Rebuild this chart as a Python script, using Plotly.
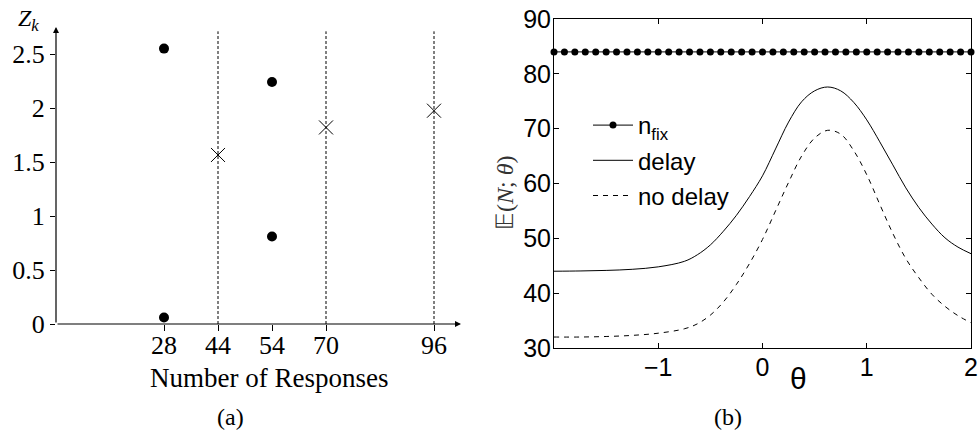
import plotly.graph_objects as go
import numpy as np

# ---------- Panel (a) data ----------
responses = [28, 44, 54, 70, 96]
slot = [3, 4, 5, 6, 8]            # ordinal position of each response count on the axis
dot_x = [28, 28, 54, 54]
dot_y = [0.06, 2.55, 0.81, 2.24]
cross_x = [44, 70, 96]
cross_y = [1.565, 1.82, 1.975]
vline_x = [44, 70, 96]
vline_top = 2.71
z_ticks = [0, 0.5, 1, 1.5, 2, 2.5]

# ---------- Panel (b) data ----------
theta = [-2.0, -1.75, -1.5, -1.25, -1.0, -0.75, -0.625, -0.5, -0.375, -0.25, -0.125,
         0.0, 0.125, 0.25, 0.375, 0.5, 0.625, 0.75, 0.875, 1.0, 1.125, 1.25, 1.375,
         1.5, 1.625, 1.75, 1.875, 2.0]
delay = [44.0, 44.05, 44.15, 44.35, 44.8, 45.8, 47.0, 48.8, 51.3, 54.2, 57.6,
         61.4, 66.3, 71.2, 74.9, 76.9, 77.6, 76.9, 74.8, 71.6, 67.6, 63.4, 59.2,
         55.6, 52.6, 50.1, 48.4, 47.2]
no_delay = [32.0, 32.0, 32.1, 32.3, 32.7, 33.5, 34.4, 36.0, 38.4, 41.6, 45.4,
            49.8, 55.0, 60.2, 65.0, 68.3, 69.7, 69.0, 66.0, 61.6, 56.2, 50.9, 46.3,
            42.8, 39.8, 37.6, 35.9, 34.6]
n_fix_value = 84.0
n_fix_theta = list(np.linspace(-2, 2, 41))

slot_of = dict(zip(responses, slot))

W, H = 978, 433
fig = go.Figure()

# vertical dotted lines
for v in vline_x:
    fig.add_trace(go.Scatter(x=[slot_of[v], slot_of[v]], y=[0, vline_top], mode="lines",
                             line=dict(color="black", width=1, dash="3px,2px"),
                             showlegend=False, xaxis="x", yaxis="y", hoverinfo="skip"))
fig.add_trace(go.Scatter(x=[slot_of[v] for v in dot_x], y=dot_y, mode="markers",
                         marker=dict(symbol="circle", size=10, color="black"),
                         showlegend=False, xaxis="x", yaxis="y", cliponaxis=False))
fig.add_trace(go.Scatter(x=[slot_of[v] for v in cross_x], y=cross_y, mode="markers",
                         marker=dict(symbol="x-thin", size=14, color="black",
                                     line=dict(color="black", width=1)),
                         showlegend=False, xaxis="x", yaxis="y"))

# panel (b)
fig.add_trace(go.Scatter(x=n_fix_theta, y=[n_fix_value] * len(n_fix_theta), mode="lines+markers",
                         name="n<sub>fix</sub>", legendgroup="a",
                         line=dict(color="black", width=1),
                         marker=dict(symbol="circle", size=7, color="black"),
                         xaxis="x2", yaxis="y2", cliponaxis=False))
fig.add_trace(go.Scatter(x=theta, y=delay, mode="lines", name="delay", legendgroup="b",
                         line=dict(color="black", width=1, shape="spline"),
                         xaxis="x2", yaxis="y2"))
fig.add_trace(go.Scatter(x=theta, y=no_delay, mode="lines", name="no delay", legendgroup="c",
                         line=dict(color="black", width=1, shape="spline", dash="5px,5px"),
                         xaxis="x2", yaxis="y2"))

serif = "Liberation Serif, Times New Roman, serif"
sans = "Liberation Sans, Arial, sans-serif"

fig.update_layout(
    width=W, height=H,
    margin=dict(l=0, r=0, t=0, b=0, autoexpand=False),
    paper_bgcolor="white", plot_bgcolor="white",
    showlegend=True,
    legend=dict(x=588 / W, y=1 - 103 / H, xanchor="left", yanchor="top",
                bgcolor="rgba(0,0,0,0)", font=dict(family=sans, size=24, color="black"),
                traceorder="grouped", tracegroupgap=1, itemwidth=40),
    xaxis=dict(domain=[56 / W, 461 / W], range=[1, 8.5], automargin=False,
               tickvals=slot, ticktext=[str(r) for r in responses],
               ticks="outside", ticklen=6, tickcolor="black", showline=False,
               showgrid=False, zeroline=False, ticklabelstandoff=-8,
               tickfont=dict(family=serif, size=26, color="black")),
    yaxis=dict(domain=[109 / H, 406 / H], range=[0, 2.75], automargin=False,
               tickvals=z_ticks, ticktext=["0", "0.5", "1", "1.5", "2", "2.5"],
               ticks="outside", ticklen=5, tickcolor="black", showline=False,
               showgrid=False, zeroline=False,
               tickfont=dict(family=serif, size=26, color="black")),
    xaxis2=dict(domain=[554 / W, 971 / W], range=[-2, 2], anchor="y2", automargin=False,
                tickvals=[-1, 0, 1, 2], ticktext=["\u22121", "0", "1", "2"],
                ticks="inside", ticklen=5, tickcolor="black",
                showline=True, linecolor="black", linewidth=1, mirror="allticks",
                showgrid=False, zeroline=False, ticklabelstandoff=-3,
                tickfont=dict(family=sans, size=25, color="black")),
    yaxis2=dict(domain=[85 / H, 414 / H], range=[30, 90], anchor="x2", automargin=False,
                tickvals=[30, 40, 50, 60, 70, 80, 90],
                ticks="inside", ticklen=5, tickcolor="black",
                showline=True, linecolor="black", linewidth=1, mirror="allticks",
                showgrid=False, zeroline=False, ticklabelstandoff=-3,
                tickfont=dict(family=sans, size=25, color="black")),
)

# axis arrows for panel (a)
fig.add_annotation(x=8.5, y=0, ax=1, ay=0, xref="x", yref="y", axref="x", ayref="y",
                   text="", showarrow=True, arrowhead=2, arrowsize=1, arrowwidth=1.2,
                   arrowcolor="black")
fig.add_annotation(x=1, y=2.75, ax=1, ay=0, xref="x", yref="y", axref="x", ayref="y",
                   text="", showarrow=True, arrowhead=2, arrowsize=1, arrowwidth=1.2,
                   arrowcolor="black")


def label(x, y, text, font, **kw):
    fig.add_annotation(x=x / W, y=1 - y / H, xref="paper", yref="paper", text=text,
                       showarrow=False, xanchor="center", yanchor="middle", font=font, **kw)


label(269, 378, "Number of Responses", dict(family=serif, size=27, color="black"))
label(28, 20, "<i>Z</i><sub><i>k</i></sub>", dict(family=serif, size=24, color="black"))
label(230, 417, "(a)", dict(family=serif, size=24, color="black"))
label(728, 417, "(b)", dict(family=serif, size=24, color="black"))
label(798, 378, "\u03b8", dict(family=sans, size=30, color="black"))
label(505, 193, "\U0001D53C(<i>N</i>; <i>\u03b8</i>)", dict(family=serif, size=24, color="#333333"),
      textangle=-90)

fig.write_html("out.html")
